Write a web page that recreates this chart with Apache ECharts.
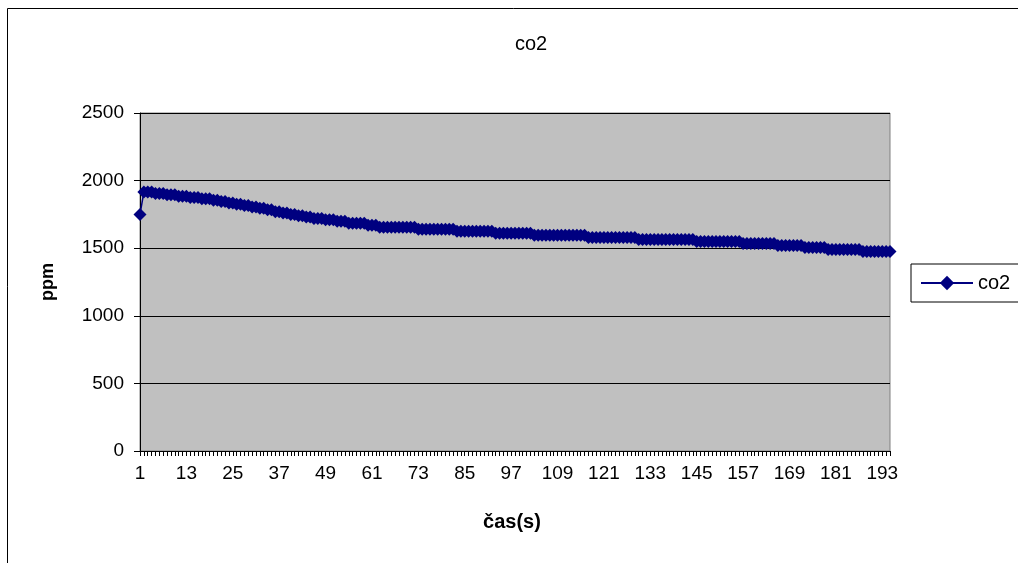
<!DOCTYPE html>
<html>
<head>
<meta charset="UTF-8">
<script src="https://cdn.jsdelivr.net/npm/echarts@6/dist/echarts.min.js"></script>
<style>
  * { margin: 0; padding: 0; }
  body { background: #fff; }
  #main { width: 1018px; height: 563px; }
</style>
</head>
<body>
<div id="main"></div>
<script>
  // time in seconds, 1..195
  var categories = [];
  for (var i = 1; i <= 195; i++) categories.push(String(i));

  // co2 readings (ppm)
  var co2 = [
    1750, 1915, 1915, 1915, 1905, 1905, 1905, 1895, 1895, 1895, 1885, 1885, 1885, 1875, 1875, 1875, 1865, 1865, 1865, 1855,
    1855, 1845, 1845, 1835, 1835, 1825, 1825, 1815, 1815, 1805, 1805, 1795, 1795, 1785, 1785, 1770, 1770, 1760, 1760, 1750,
    1750, 1740, 1740, 1730, 1730, 1720, 1720, 1720, 1710, 1710, 1710, 1700, 1700, 1700, 1685, 1685, 1685, 1685, 1685, 1670,
    1670, 1670, 1655, 1655, 1655, 1655, 1655, 1655, 1655, 1655, 1655, 1655, 1640, 1640, 1640, 1640, 1640, 1640, 1640, 1640,
    1640, 1640, 1625, 1625, 1625, 1625, 1625, 1625, 1625, 1625, 1625, 1625, 1610, 1610, 1610, 1610, 1610, 1610, 1610, 1610,
    1610, 1610, 1595, 1595, 1595, 1595, 1595, 1595, 1595, 1595, 1595, 1595, 1595, 1595, 1595, 1595, 1580, 1580, 1580, 1580,
    1580, 1580, 1580, 1580, 1580, 1580, 1580, 1580, 1580, 1565, 1565, 1565, 1565, 1565, 1565, 1565, 1565, 1565, 1565, 1565,
    1565, 1565, 1565, 1565, 1550, 1550, 1550, 1550, 1550, 1550, 1550, 1550, 1550, 1550, 1550, 1550, 1535, 1535, 1535, 1535,
    1535, 1535, 1535, 1535, 1535, 1520, 1520, 1520, 1520, 1520, 1520, 1520, 1505, 1505, 1505, 1505, 1505, 1505, 1490, 1490,
    1490, 1490, 1490, 1490, 1490, 1490, 1490, 1475, 1475, 1475, 1475, 1475, 1475, 1475, 1475
  ];

  var font = 'Liberation Sans, Arial, sans-serif';

  var chartDom = document.getElementById('main');
  var myChart = echarts.init(chartDom);
  var option;

  option = {
    animation: false,
    textStyle: { fontFamily: font },
    title: {
      text: 'co2',
      left: 510,
      top: 29,
      textStyle: { fontSize: 20, fontWeight: 'normal', color: '#000', fontFamily: font }
    },
    graphic: [
      {
        // outer chart border, runs past the window on the right and bottom
        type: 'rect',
        shape: { x: 7.5, y: 8.5, width: 1100, height: 600 },
        style: { fill: 'none', stroke: '#000', lineWidth: 1 },
        z: -1
      }
    ],
    legend: {
      left: 911,
      top: 264,
      padding: [9, 20, 9, 9],
      borderColor: '#000',
      borderWidth: 1,
      itemWidth: 52,
      itemHeight: 18,
      textStyle: { fontSize: 20, color: '#000', fontFamily: font, lineHeight: 18 },
      data: ['co2']
    },
    grid: {
      left: 140,
      right: 128,
      top: 113,
      bottom: 112,
      show: true,
      backgroundColor: '#c0c0c0',
      borderColor: '#808080',
      borderWidth: 1
    },
    xAxis: {
      type: 'category',
      data: categories,
      boundaryGap: false,
      name: 'čas(s)',
      nameLocation: 'middle',
      nameGap: 61,
      nameTextStyle: { fontSize: 20, fontWeight: 'bold', color: '#000', fontFamily: font, padding: [0, 6, 0, 0] },
      axisLine: { lineStyle: { color: '#000', width: 1 } },
      axisTick: { show: true, interval: 0, length: 5, lineStyle: { color: '#000' } },
      axisLabel: { interval: 11, fontSize: 19, color: '#000', margin: 13, fontFamily: font },
      splitLine: { show: false }
    },
    yAxis: {
      type: 'value',
      min: 0,
      max: 2500,
      interval: 500,
      name: 'ppm',
      nameLocation: 'middle',
      nameGap: 83,
      nameRotate: 90,
      nameTextStyle: { fontSize: 18, fontWeight: 'bold', color: '#000', fontFamily: font },
      axisLine: { show: true, lineStyle: { color: '#000', width: 1 } },
      axisTick: { show: true, length: 6, lineStyle: { color: '#000' } },
      axisLabel: {
        fontSize: 19, color: '#000', margin: 16, fontFamily: font,
        formatter: function (v) { return String(v); }
      },
      splitLine: { show: true, lineStyle: { color: '#000', width: 1 } }
    },
    series: [
      {
        name: 'co2',
        type: 'line',
        data: co2,
        symbol: 'diamond',
        symbolSize: 13,
        showAllSymbol: true,
        lineStyle: { color: '#000080', width: 1.5 },
        itemStyle: { color: '#000080' }
      }
    ]
  };

  option && myChart.setOption(option);
</script>
</body>
</html>
